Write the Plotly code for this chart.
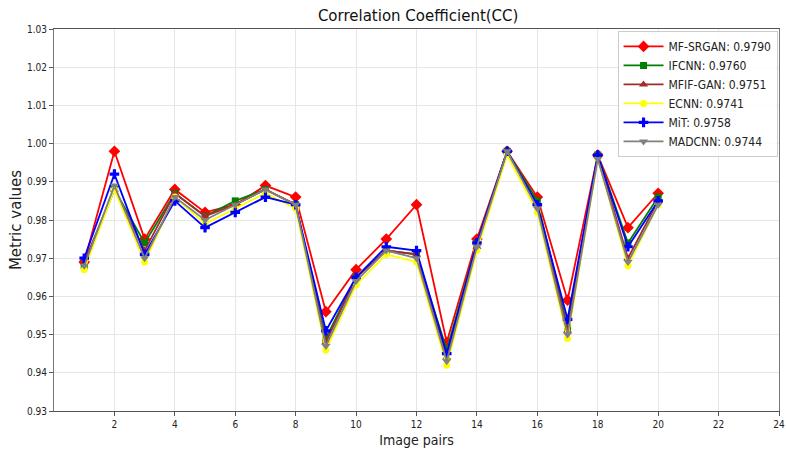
import plotly.graph_objects as go

pairs = list(range(1, 21))

mf_srgan = [0.969, 0.998, 0.975, 0.988, 0.982, 0.984, 0.989, 0.986, 0.956, 0.967,
            0.975, 0.984, 0.948, 0.975, 0.998, 0.986, 0.959, 0.997, 0.978, 0.987]
ifcnn = [0.968, 0.988, 0.974, 0.987, 0.981, 0.985, 0.988, 0.984, 0.949, 0.965,
         0.972, 0.971, 0.946, 0.974, 0.998, 0.985, 0.952, 0.997, 0.974, 0.986]
mfif_gan = [0.969, 0.988, 0.972, 0.987, 0.981, 0.984, 0.988, 0.984, 0.948, 0.965,
            0.972, 0.971, 0.944, 0.973, 0.998, 0.984, 0.951, 0.997, 0.970, 0.985]
ecnn = [0.967, 0.988, 0.969, 0.986, 0.979, 0.983, 0.987, 0.983, 0.946, 0.963,
        0.971, 0.969, 0.942, 0.972, 0.997, 0.982, 0.949, 0.996, 0.968, 0.984]
mit = [0.970, 0.992, 0.971, 0.985, 0.978, 0.982, 0.986, 0.984, 0.951, 0.965,
       0.973, 0.972, 0.945, 0.974, 0.998, 0.984, 0.954, 0.997, 0.973, 0.985]
madcnn = [0.968, 0.989, 0.970, 0.986, 0.980, 0.984, 0.988, 0.984, 0.947, 0.964,
          0.972, 0.970, 0.943, 0.973, 0.998, 0.983, 0.950, 0.996, 0.969, 0.984]

series = [
    ("MF-SRGAN: 0.9790", mf_srgan, "#ff0000", "diamond", 9),
    ("IFCNN: 0.9760", ifcnn, "#008000", "square", 7),
    ("MFIF-GAN: 0.9751", mfif_gan, "#a52a2a", "triangle-up", 8),
    ("ECNN: 0.9741", ecnn, "#ffff00", "circle", 7),
    ("MiT: 0.9758", mit, "#0000ff", "cross", 8),
    ("MADCNN: 0.9744", madcnn, "#808080", "triangle-down", 8),
]

x_ticks = list(range(2, 25, 2))
y_ticks = [round(0.93 + 0.01 * i, 2) for i in range(11)]

fig = go.Figure()
for name, vals, color, sym, size in series:
    fig.add_trace(go.Scatter(
        x=pairs, y=vals, name=name, mode="lines+markers",
        line=dict(color=color, width=1.8),
        marker=dict(color=color, symbol=sym, size=size),
    ))

font_family = "DejaVu Sans Condensed, DejaVu Sans, sans-serif"

fig.update_layout(
    width=786, height=451,
    margin=dict(l=54, r=7, t=29, b=40),
    paper_bgcolor="white", plot_bgcolor="white",
    font=dict(family=font_family, color="#222222"),
    title=dict(text="Correlation Coefficient(CC)", x=0.532, xanchor="center",
               y=0.965, yanchor="middle", font=dict(size=15, family="DejaVu Sans", color="#111111")),
    legend=dict(x=0.998, y=0.995, xanchor="right", yanchor="top",
                bgcolor="rgba(255,255,255,0.85)", bordercolor="#cccccc", borderwidth=1,
                font=dict(size=12, family="DejaVu Sans Condensed, DejaVu Sans", color="#222222"),
                tracegroupgap=0, itemwidth=40),
    showlegend=True,
)
fig.update_xaxes(
    range=[0, 24], tickvals=x_ticks, ticktext=[str(v) for v in x_ticks],
    ticklabeloverflow="allow", automargin=False,
    showgrid=True, gridcolor="#e6e6e6", gridwidth=1,
    showline=True, linecolor="#555555", linewidth=1, mirror=True,
    ticks="outside", ticklen=4, tickcolor="#555555",
    tickfont=dict(size=10), zeroline=False,
    title=dict(text="Image pairs", font=dict(size=14, family="DejaVu Sans Condensed, DejaVu Sans"), standoff=6),
)
fig.update_yaxes(
    range=[0.93, 1.03], tickvals=y_ticks, ticktext=[f"{v:.2f}" for v in y_ticks],
    automargin=False,
    showgrid=True, gridcolor="#e6e6e6", gridwidth=1,
    showline=True, linecolor="#777777", linewidth=1, mirror=True,
    ticks="outside", ticklen=4, tickcolor="#555555",
    tickfont=dict(size=10), zeroline=False,
    title=dict(text="Metric values", font=dict(size=15, family="DejaVu Sans"), standoff=1),
)

fig.write_html("out.html")
